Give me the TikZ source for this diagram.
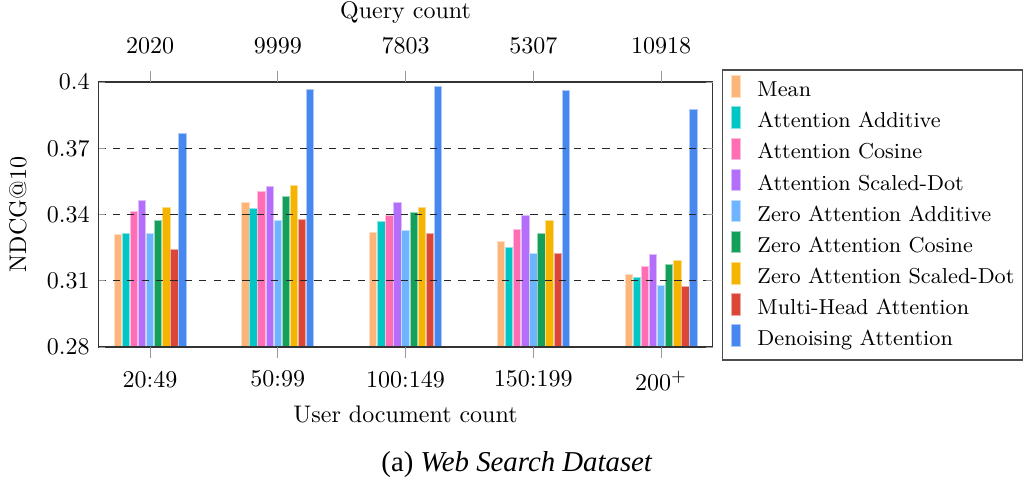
\documentclass[tikz,border=0pt]{standalone}
\usepackage{fontspec}
\newfontfamily\captionfont{Liberation Serif}

% series colours
\definecolor{sMean}{HTML}{FDB57A}
\definecolor{sAttAdd}{HTML}{00C6C6}
\definecolor{sAttCos}{HTML}{FF6EB4}
\definecolor{sAttDot}{HTML}{B46EFA}
\definecolor{sZeroAdd}{HTML}{6EB4FF}
\definecolor{sZeroCos}{HTML}{14A05A}
\definecolor{sZeroDot}{HTML}{F5B400}
\definecolor{sMulti}{HTML}{DC4637}
\definecolor{sDenoise}{HTML}{4687F0}

\tikzset{
  barbox/.style={fill=#1, draw=#1!45!white, line width=0.3pt},
  gridline/.style={dashed, line width=0.45pt, black!85},
  axisframe/.style={line width=0.45pt, black!80},
  tickline/.style={line width=0.4pt, black!40},
  ticklabel/.style={inner sep=0pt},
  legendframe/.style={line width=0.45pt, black!70},
  legendtext/.style={anchor=base west, inner sep=0pt, font=\small},
}

\begin{document}
\begin{tikzpicture}[x=0.4167pt, y=-0.4167pt, font=\fontsize{10}{12}\selectfont]
\useasboundingbox (0,0) rectangle (1025,484);

% bars: one list of nine scores per document-count bucket
\foreach \vals [count=\gi from 0] in {
  {0.3310,0.3313,0.3416,0.3464,0.3315,0.3375,0.3431,0.3244,0.3769},
  {0.3457,0.3426,0.3505,0.3526,0.3372,0.3484,0.3532,0.3378,0.3968},
  {0.3321,0.3367,0.3398,0.3455,0.3330,0.3411,0.3434,0.3313,0.3982},
  {0.3280,0.3250,0.3334,0.3395,0.3226,0.3316,0.3375,0.3223,0.3963},
  {0.3129,0.3117,0.3165,0.3221,0.3079,0.3175,0.3193,0.3076,0.3877}} {
  \foreach \v [count=\j from 0] in \vals {
    \pgfmathsetmacro\cx{150+127.75*\gi+(\j-4)*8.1}
    \pgfmathsetmacro\ty{347-(\v-0.28)*2208.33}
    \ifcase\j \def\col{sMean}\or \def\col{sAttAdd}\or \def\col{sAttCos}\or
      \def\col{sAttDot}\or \def\col{sZeroAdd}\or \def\col{sZeroCos}\or
      \def\col{sZeroDot}\or \def\col{sMulti}\else \def\col{sDenoise}\fi
    \path[barbox=\col] (\cx-3.7,347) rectangle (\cx+3.7,\ty);
  }
}

% horizontal grid
\foreach \v in {0.31,0.34,0.37} {
  \draw[gridline] (98.5,{347-(\v-0.28)*2208.33}) -- (712.5,{347-(\v-0.28)*2208.33});
}

% axis frame
\draw[axisframe] (98.5,82) rectangle (712.5,347);

% y ticks and labels
\foreach \v in {0.28,0.31,0.34,0.37,0.4} {
  \pgfmathsetmacro\yy{347-(\v-0.28)*2208.33}
  \draw[tickline] (98.5,\yy) -- ++(6.8,0);
  \draw[tickline] (712.5,\yy) -- ++(-6.8,0);
  \node[ticklabel, anchor=east] (ylab\v) at (90,\yy) {\v};
}
\node[rotate=90] (ytitle) at (18,214.5) {NDCG@10};

% category ticks, bottom and top
\foreach \lab/\q [count=\i from 0] in {20:49/2020, 50:99/9999, 100:149/7803, 150:199/5307, $200^+$/10918} {
  \pgfmathsetmacro\cx{150+127.75*\i}
  \draw[tickline] (\cx,347) -- (\cx,358);
  \draw[tickline] (\cx,82) -- (\cx,71);
  \node[ticklabel, anchor=north] (xlab\i) at (\cx,370.5) {\lab};
  \node[ticklabel, anchor=base] (qlab\i) at (\cx,53) {\q};
}
\node[anchor=base, inner sep=0pt] (xtitle) at (405.5,422) {User document count};
\node[anchor=base, inner sep=0pt] (qtitle) at (405.5,18) {Query count};

% legend
\draw[legendframe] (722.7,70) rectangle (1022.5,360);
\foreach \col/\lab [count=\j from 0] in {
  sMean/Mean, sAttAdd/Attention Additive, sAttCos/Attention Cosine,
  sAttDot/Attention Scaled-Dot, sZeroAdd/Zero Attention Additive,
  sZeroCos/Zero Attention Cosine, sZeroDot/Zero Attention Scaled-Dot,
  sMulti/Multi-Head Attention, sDenoise/Denoising Attention} {
  \path[barbox=\col] (731,{75.7+31.1*\j}) rectangle ++(9,21.6);
  \node[legendtext] (leg\j) at (757,{96.7+31.1*\j}) {\lab};
}

% sub-figure caption
\node[anchor=base, inner sep=0pt] (caption) at (516.7,471.5)
  {\captionfont\fontsize{12}{14}\selectfont (a) \itshape Web Search Dataset};
\end{tikzpicture}
\end{document}
